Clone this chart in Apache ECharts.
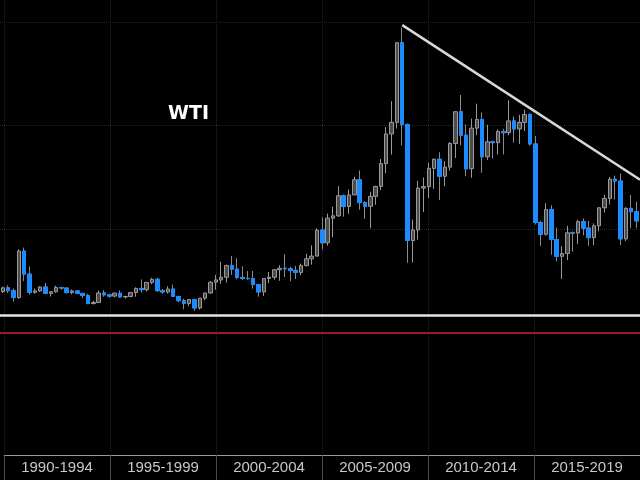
<!DOCTYPE html>
<html>
<head>
<meta charset="utf-8">
<script src="https://cdn.jsdelivr.net/npm/echarts@6/dist/echarts.min.js"></script>
<style>html,body{margin:0;padding:0;background:#000;}#c{width:640px;height:480px;}</style>
</head>
<body>
<div id="c"></div>
<script>
// Quarterly WTI candles, 1989Q4 .. 2019Q3
const quarters = [
 '1989Q4',
 '1990Q1','1990Q2','1990Q3','1990Q4','1991Q1','1991Q2','1991Q3','1991Q4',
 '1992Q1','1992Q2','1992Q3','1992Q4','1993Q1','1993Q2','1993Q3','1993Q4',
 '1994Q1','1994Q2','1994Q3','1994Q4','1995Q1','1995Q2','1995Q3','1995Q4',
 '1996Q1','1996Q2','1996Q3','1996Q4','1997Q1','1997Q2','1997Q3','1997Q4',
 '1998Q1','1998Q2','1998Q3','1998Q4','1999Q1','1999Q2','1999Q3','1999Q4',
 '2000Q1','2000Q2','2000Q3','2000Q4','2001Q1','2001Q2','2001Q3','2001Q4',
 '2002Q1','2002Q2','2002Q3','2002Q4','2003Q1','2003Q2','2003Q3','2003Q4',
 '2004Q1','2004Q2','2004Q3','2004Q4','2005Q1','2005Q2','2005Q3','2005Q4',
 '2006Q1','2006Q2','2006Q3','2006Q4','2007Q1','2007Q2','2007Q3','2007Q4',
 '2008Q1','2008Q2','2008Q3','2008Q4','2009Q1','2009Q2','2009Q3','2009Q4',
 '2010Q1','2010Q2','2010Q3','2010Q4','2011Q1','2011Q2','2011Q3','2011Q4',
 '2012Q1','2012Q2','2012Q3','2012Q4','2013Q1','2013Q2','2013Q3','2013Q4',
 '2014Q1','2014Q2','2014Q3','2014Q4','2015Q1','2015Q2','2015Q3','2015Q4',
 '2016Q1','2016Q2','2016Q3','2016Q4','2017Q1','2017Q2','2017Q3','2017Q4',
 '2018Q1','2018Q2','2018Q3','2018Q4','2019Q1','2019Q2','2019Q3'
];
const open = [
 20.0,
 21.8,20.4,17.1,39.5, 28.4,19.6,20.3,22.2,
 19.1,19.9,21.9,21.7, 19.5,20.3,19.1,18.1,
 14.2,14.7,19.3,18.4, 17.8,19.2,17.4,17.6,
 19.5,21.5,20.9,24.4, 25.9,20.4,19.8,21.2,
 17.6,15.6,14.2,16.1, 12.1,16.8,19.3,24.5,
 25.6,26.9,32.5,30.8, 26.8,26.3,26.2,23.4,
 19.8,26.3,26.9,30.5, 31.2,31.0,30.2,29.2,
 32.5,35.8,37.1,49.6, 43.5,55.4,56.5,66.2,
 61.0,66.6,73.9,62.9, 61.1,65.9,70.7,81.7,
 96.0,101.6,140.0,100.6, 44.6,49.7,69.9,70.6,
 79.4,83.8,75.6,80.0, 91.4,106.7,95.4,79.2,
 98.8,103.0,85.0,92.2, 91.8,97.2,96.6,102.3,
 98.4,101.6,105.4,91.2, 53.3,47.6,59.5,45.1,
 37.0,38.3,48.3,48.2, 53.7,50.6,46.0,51.7,
 60.4,64.9,74.2,73.3, 45.4,60.1,58.5
];
const close = [
 21.8,
 20.4,17.1,39.5,28.4, 19.6,20.3,22.2,19.1,
 19.9,21.9,21.7,19.5, 20.3,19.1,18.1,14.2,
 14.7,19.3,18.4,17.8, 19.2,17.4,17.6,19.5,
 21.5,20.9,24.4,25.9, 20.4,19.8,21.2,17.6,
 15.6,14.2,16.1,12.1, 16.8,19.3,24.5,25.6,
 26.9,32.5,30.8,26.8, 26.3,26.2,23.4,19.8,
 26.3,26.9,30.5,31.2, 31.0,30.2,29.2,32.5,
 35.8,37.1,49.6,43.5, 55.4,56.5,66.2,61.0,
 66.6,73.9,62.9,61.1, 65.9,70.7,81.7,96.0,
 101.6,140.0,100.6,44.6, 49.7,69.9,70.6,79.4,
 83.8,75.6,80.0,91.4, 106.7,95.4,79.2,98.8,
 103.0,85.0,92.2,91.8, 97.2,96.6,102.3,98.4,
 101.6,105.4,91.2,53.3, 47.6,59.5,45.1,37.0,
 38.3,48.3,48.2,53.7, 50.6,46.0,51.7,60.4,
 64.9,74.2,73.3,45.4, 60.1,58.5,54.1
];
const low = [
 19.3,
 19.3,15.1,16.5,25.0, 18.5,19.0,19.8,18.8,
 17.6,19.4,20.9,19.1, 18.7,18.9,16.9,13.9,
 13.8,14.5,17.5,17.0, 17.2,17.0,16.7,17.3,
 17.5,19.5,20.0,23.5, 20.0,18.9,19.0,17.5,
 14.8,11.4,12.9,10.7, 11.3,15.8,19.0,20.8,
 23.7,24.3,28.0,25.9, 25.6,25.7,21.4,17.5,
 17.9,24.0,25.7,25.2, 27.0,25.0,26.0,27.9,
 32.2,33.0,37.0,40.3, 42.1,46.2,56.0,56.1,
 57.5,66.6,59.5,55.0, 50.5,61.9,69.0,77.0,
 86.1,98.6,90.5,33.9, 34.0,45.0,58.3,65.1,
 69.5,64.2,70.8,78.3, 84.4,90.6,75.7,74.9,
 95.4,77.3,83.5,84.1, 86.1,86.1,95.4,91.8,
 91.2,97.4,90.4,52.4, 42.0,47.0,37.8,34.5,
 26.1,35.2,39.2,43.0, 47.1,42.1,42.3,49.1,
 58.1,62.0,64.4,42.4, 44.4,50.6,50.5
];
const high = [
 22.4,
 23.0,21.5,40.4,41.2, 32.0,21.5,22.6,24.2,
 20.2,22.8,22.3,21.8, 21.0,20.5,19.2,18.9,
 15.5,20.5,20.7,18.9, 19.5,20.5,18.0,19.8,
 22.0,25.8,24.5,26.6, 26.6,21.2,22.5,23.3,
 18.0,16.5,16.2,16.6, 16.9,19.4,25.0,28.0,
 34.4,33.0,37.2,36.0, 32.2,29.9,29.9,23.6,
 26.4,29.4,30.7,32.7, 38.0,32.0,32.4,33.5,
 38.2,42.3,50.5,55.7, 57.6,60.9,70.8,66.8,
 69.2,75.4,78.4,63.5, 68.1,71.0,83.9,99.3,
 111.8,140.4,147.3,101.0, 54.7,73.4,75.0,82.0,
 84.2,87.2,82.9,92.1, 106.9,114.8,100.6,103.4,
 110.6,106.4,100.4,92.8, 98.2,98.5,112.2,104.4,
 105.2,107.7,105.9,95.0, 54.2,62.6,61.6,50.9,
 41.9,51.7,49.0,54.5, 55.2,54.1,52.9,60.5,
 66.7,75.3,75.9,76.9, 60.7,66.6,63.4
];
const periodLabels = ['1990-1994','1995-1999','2000-2004','2005-2009','2010-2014','2015-2019'];
const yTicks = [0, 50, 100, 150];
const trendLine = [[2008.63, 148.5], [2019.79, 73.9]];
const levelWhite = 8.7;
const levelRed = 0;

function qx(q) { return +q.slice(0, 4) + (+q.slice(5) - 1) / 4 + 0.125; }
const allCandles = quarters.map((q, i) => [qx(q), open[i], close[i], low[i], high[i]]);
const downBodies = quarters.map((q, i) => close[i] < open[i]
  ? [qx(q), open[i], close[i], close[i], open[i]]
  : [qx(q), '-', '-', '-', '-']);

const chart = echarts.init(document.getElementById('c'));
chart.setOption({
  backgroundColor: '#000',
  animation: false,
  title: {
    text: 'WTI', left: 163, top: 100,
    textStyle: { color: '#ffffff', fontSize: 19, fontWeight: 'bold', fontFamily: 'DejaVu Sans' }
  },
  grid: [
    { left: 0, right: 0, top: 22, bottom: 147 },
    { left: 4, right: -3, top: 0, bottom: 25 }
  ],
  xAxis: [
    { gridIndex: 0, type: 'value', min: 1989.742, max: 2019.789, show: false },
    { gridIndex: 1, type: 'category', data: periodLabels, boundaryGap: true, position: 'bottom',
      axisLine: { show: true, lineStyle: { color: '#9a9a9a', width: 1 } },
      axisTick: { show: true, interval: 0, length: 25, lineStyle: { color: '#4a4a4a' } },
      axisLabel: { interval: 0, color: '#c8c8c8', fontSize: 15, fontFamily: 'Liberation Sans', margin: 5 },
      splitLine: { show: true, interval: 0, lineStyle: { color: '#262626', type: 'dotted', width: 1 } }
    }
  ],
  yAxis: [
    { gridIndex: 0, type: 'value', min: yTicks[0], max: yTicks[yTicks.length - 1], interval: 50,
      axisLine: { show: false }, axisTick: { show: false }, axisLabel: { show: false },
      splitLine: { show: true, lineStyle: { color: '#262626', type: 'dotted', width: 1 } } },
    { gridIndex: 1, type: 'value', show: false, splitLine: { show: false } }
  ],
  series: [
    {
      type: 'candlestick', xAxisIndex: 0, yAxisIndex: 0,
      encode: { x: 0, y: [1, 2, 3, 4] },
      data: allCandles, barWidth: 4,
      itemStyle: { color: '#4c4c4c', color0: '#4c4c4c', borderColor: '#9a9a9a', borderColor0: '#8a8a8a', borderWidth: 1 },
      markLine: {
        silent: true, symbol: 'none', label: { show: false },
        data: [
          { yAxis: levelRed, lineStyle: { color: '#9e1b28', width: 2, type: 'solid' } },
          { yAxis: levelWhite, lineStyle: { color: '#e4e4e4', width: 2.5, type: 'solid' } }
        ]
      },
      z: 2
    },
    {
      type: 'candlestick', xAxisIndex: 0, yAxisIndex: 0,
      encode: { x: 0, y: [1, 2, 3, 4] },
      data: downBodies, barWidth: 4,
      itemStyle: { color: '#1a8cff', color0: '#1a8cff', borderColor: '#1a8cff', borderColor0: '#1a8cff', borderWidth: 1 },
      z: 3
    },
    {
      type: 'line', xAxisIndex: 0, yAxisIndex: 0, data: trendLine,
      showSymbol: false, symbol: 'none', silent: true,
      lineStyle: { color: '#d8d8d8', width: 2.5 }, z: 4
    }
  ]
});
</script>
</body>
</html>
